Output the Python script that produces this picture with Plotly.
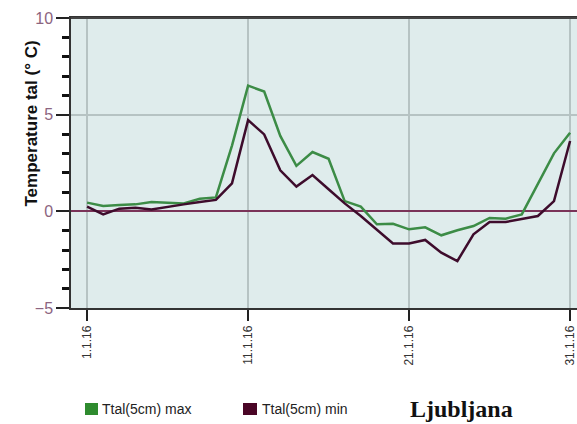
import plotly.graph_objects as go

# ---- data ----
days = list(range(1, 32))
tmax = [0.45, 0.28, 0.33, 0.36, 0.48, 0.45, 0.41, 0.65, 0.72, 3.4,
        6.5, 6.2, 3.9, 2.35, 3.07, 2.72, 0.53, 0.24, -0.67, -0.64,
        -0.93, -0.83, -1.24, -0.98, -0.76, -0.34, -0.38, -0.16, 1.4, 3.0,
        4.07]
tmin = [0.24, -0.16, 0.14, 0.19, 0.1, 0.24, 0.36, 0.48, 0.59, 1.45,
        4.72, 3.98, 2.12, 1.28, 1.88, 1.14, 0.41, -0.24, -0.93, -1.66,
        -1.66, -1.48, -2.14, -2.57, -1.19, -0.55, -0.55, -0.41, -0.24, 0.53,
        3.64]
series_names = ["Ttal(5cm) max", "Ttal(5cm) min"]
x_tickvals = [1, 11, 21, 31]
x_ticktext = ["1.1.16", "11.1.16", "21.1.16", "31.1.16"]
y_range = [-5, 10]
y_major_step = 5
y_minor_step = 1
station = "Ljubljana"
y_title = "Temperature tal (° C)"

# ---- styles ----
W, H = 577, 424
ML, MR, MT, MB = 71, 0, 18, 116
PW, PH = W - ML - MR, H - MT - MB
green_line, green_box = "#3c8c46", "#2e8b2e"
maroon_line, maroon_box = "#3e0c2c", "#4a0526"


def px_x(p):
    return (p - ML) / PW


def px_y(p):
    return (H - MB - p) / PH


fig = go.Figure()
fig.add_trace(go.Scatter(x=days, y=tmax, mode="lines", name=series_names[0],
                         line=dict(color=green_line, width=2.5), showlegend=False))
fig.add_trace(go.Scatter(x=days, y=tmin, mode="lines", name=series_names[1],
                         line=dict(color=maroon_line, width=2.5), showlegend=False))

fig.update_layout(
    width=W, height=H,
    margin=dict(l=ML, r=MR, t=MT, b=MB),
    paper_bgcolor="white",
    plot_bgcolor="#dfecec",
    font=dict(family="Liberation Sans, Arial", color="#222"),
    showlegend=False,
)
fig.update_xaxes(
    range=[0, 31.43], tickvals=x_tickvals, ticktext=x_ticktext,
    tickangle=-90, tickfont=dict(size=12, color="#333"),
    ticks="outside", ticklen=11, tickwidth=2, tickcolor="#222",
    showline=True, linecolor="#333", linewidth=1.5, mirror=True,
    showgrid=True, gridcolor="#b6c3c3", gridwidth=2, zeroline=False,
)
fig.update_yaxes(
    range=y_range, tickmode="linear", tick0=y_range[0], dtick=y_major_step,
    tickfont=dict(size=16, color="#8c6480"),
    ticks="outside", ticklen=13, tickwidth=2, tickcolor="#222",
    minor=dict(dtick=y_minor_step, ticks="outside", ticklen=7,
               tickwidth=2.5, tickcolor="#111"),
    showline=True, linecolor="#333", linewidth=1.5,
    showgrid=True, gridcolor="#b6c3c3", gridwidth=1.5,
    zeroline=True, zerolinecolor="#7a3358", zerolinewidth=1.5,
)

# top border slightly darker/thicker
fig.add_shape(type="line", xref="paper", yref="paper", x0=0, x1=1, y0=1, y1=1,
              line=dict(color="#444", width=2))

# y-axis title
fig.add_annotation(xref="paper", yref="paper", x=px_x(20), y=px_y(124),
                   text=f"<b>{y_title}</b>", textangle=-90, showarrow=False,
                   font=dict(size=17, color="#111", family="Liberation Sans, Arial"))

# manual legend
legend_items = [(series_names[0], green_box, 85, 98, 100),
                (series_names[1], maroon_box, 243, 257, 260)]
for name, col, x0, x1, tx in legend_items:
    fig.add_shape(type="rect", xref="paper", yref="paper",
                  x0=px_x(x0), x1=px_x(x1), y0=px_y(415), y1=px_y(403),
                  fillcolor=col, line=dict(width=0))
    fig.add_annotation(xref="paper", yref="paper", x=px_x(tx), y=px_y(409),
                       xanchor="left", yanchor="middle", text=name, showarrow=False,
                       font=dict(size=14, color="#222", family="Liberation Sans, Arial"))

fig.add_annotation(xref="paper", yref="paper", x=px_x(408), y=px_y(409),
                   xanchor="left", yanchor="middle", text=f"<b>{station}</b>",
                   showarrow=False,
                   font=dict(size=24, color="#111", family="Liberation Serif, Times New Roman"))

fig.write_html("out.html", config={"displayModeBar": False},
               post_script="document.body.style.margin='0';document.body.style.overflow='hidden';")
